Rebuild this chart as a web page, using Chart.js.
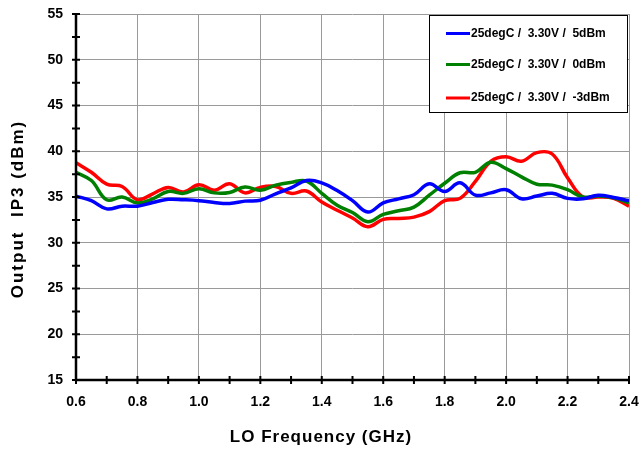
<!DOCTYPE html>
<html>
<head>
<meta charset="utf-8">
<script src="https://cdn.jsdelivr.net/npm/chart.js@4.4.1/dist/chart.umd.min.js"></script>
<style>
  html, body { margin: 0; padding: 0; background: #fff; }
  #wrap { width: 642px; height: 449px; }
</style>
</head>
<body>
<div id="wrap"><canvas id="chartIP3"></canvas></div>
<script>
// LO frequency (GHz), cada 0.05
const freq = [0.60, 0.65, 0.70, 0.75, 0.80, 0.85, 0.90, 0.95, 1.00, 1.05, 1.10, 1.15, 1.20,
  1.25, 1.30, 1.35, 1.40, 1.45, 1.50, 1.55, 1.60, 1.65, 1.70, 1.75, 1.80, 1.85, 1.90, 1.95,
  2.00, 2.05, 2.10, 2.15, 2.20, 2.25, 2.30, 2.35, 2.40];

const ip3_5dBm = [35.1, 34.6, 33.7, 34.0, 34.0, 34.4, 34.75, 34.7, 34.6, 34.4, 34.3, 34.55, 34.65,
  35.35, 36.0, 36.8, 36.55, 35.7, 34.6, 33.35, 34.35, 34.8, 35.25, 36.45, 35.6, 36.55, 35.2, 35.45,
  35.8, 34.8, 35.1, 35.4, 34.85, 34.8, 35.2, 34.95, 34.6];

const ip3_0dBm = [37.7, 36.8, 34.7, 35.0, 34.35, 34.8, 35.6, 35.4, 35.9, 35.45, 35.5, 36.1, 35.75,
  36.3, 36.6, 36.75, 35.4, 34.1, 33.3, 32.3, 33.1, 33.5, 33.9, 35.2, 36.5, 37.65, 37.7, 38.8,
  38.1, 37.2, 36.4, 36.3, 35.8, 35.0, 35.1, 34.9, 34.35];

const ip3_m3dBm = [38.75, 37.7, 36.4, 36.15, 34.7, 35.35, 36.05, 35.55, 36.35, 35.75, 36.45, 35.45, 36.05,
  36.15, 35.4, 35.65, 34.45, 33.55, 32.7, 31.75, 32.55, 32.65, 32.8, 33.4, 34.6, 34.85, 36.7, 38.9,
  39.4, 38.9, 39.85, 39.7, 37.1, 35.0, 35.0, 34.85, 34.0];

const xTicks = [0.6, 0.8, 1.0, 1.2, 1.4, 1.6, 1.8, 2.0, 2.2, 2.4];
const yTicks = [15, 20, 25, 30, 35, 40, 45, 50, 55];

const series = [
  { label: '25degC /  3.30V /  5dBm', values: ip3_5dBm, color: '#0000ff' },
  { label: '25degC /  3.30V /  0dBm', values: ip3_0dBm, color: '#008000' },
  { label: '25degC /  3.30V /  -3dBm', values: ip3_m3dBm, color: '#ff0000' }
];

const FONT = '"Liberation Sans", Arial, sans-serif';

// ejes negros con marcas que cruzan la línea, títulos de ejes y leyenda en recuadro
const ejesPlugin = {
  id: 'ejes',
  afterDatasetsDraw(chart) {
    const { ctx, chartArea: a, scales: { x, y } } = chart;
    ctx.save();
    ctx.strokeStyle = '#000';
    ctx.lineWidth = 2.5;
    ctx.beginPath();
    ctx.moveTo(a.left, a.top - 1);
    ctx.lineTo(a.left, a.bottom);
    ctx.lineTo(a.right + 1, a.bottom);
    ctx.stroke();
    ctx.lineWidth = 2;
    ctx.beginPath();
    for (let v = 15; v <= 55.01; v += 2.5) {
      const py = y.getPixelForValue(v);
      ctx.moveTo(a.left - 4, py);
      ctx.lineTo(a.left + 4, py);
    }
    for (let v = 0.6; v <= 2.401; v += 0.1) {
      const px = x.getPixelForValue(v);
      ctx.moveTo(px, a.bottom - 4);
      ctx.lineTo(px, a.bottom + 4);
    }
    ctx.stroke();
    ctx.restore();
  },
  afterDraw(chart) {
    const { ctx } = chart;
    ctx.save();
    ctx.fillStyle = '#000';
    ctx.textAlign = 'center';
    ctx.textBaseline = 'middle';
    ctx.font = 'bold 17px ' + FONT;
    ctx.letterSpacing = '1px';
    ctx.fillText('LO Frequency (GHz)', 321, 437);
    ctx.save();
    ctx.translate(18, 209);
    ctx.rotate(-Math.PI / 2);
    ctx.letterSpacing = '2px';
    ctx.fillText('Output  IP3 (dBm)', 0, 0);
    ctx.restore();
    ctx.letterSpacing = '0px';

    ctx.fillStyle = '#fff';
    ctx.fillRect(429.5, 15.5, 198, 97);
    ctx.strokeStyle = '#000';
    ctx.lineWidth = 1;
    ctx.strokeRect(429.5, 15.5, 198, 97);
    const filas = [33.5, 64.5, 98];
    ctx.font = 'bold 12px ' + FONT;
    ctx.textAlign = 'left';
    series.forEach((s, i) => {
      ctx.strokeStyle = s.color;
      ctx.lineWidth = 3;
      ctx.beginPath();
      ctx.moveTo(446, filas[i]);
      ctx.lineTo(470, filas[i]);
      ctx.stroke();
      ctx.fillStyle = '#000';
      ctx.fillText(s.label, 471, filas[i]);
    });
    ctx.restore();
  }
};

new Chart(document.getElementById('chartIP3'), {
  type: 'line',
  data: {
    datasets: series.map(s => ({
      label: s.label,
      data: freq.map((f, i) => ({ x: f, y: s.values[i] })),
      borderColor: s.color,
      backgroundColor: s.color,
      borderWidth: 3.5,
      pointRadius: 0,
      tension: 0.4,
      fill: false
    }))
  },
  options: {
    responsive: true,
    maintainAspectRatio: false,
    animation: false,
    layout: { padding: { top: 14, right: 13, left: 0, bottom: 0 } },
    plugins: { legend: { display: false }, tooltip: { enabled: false } },
    scales: {
      x: {
        type: 'linear',
        min: 0.6,
        max: 2.4,
        afterBuildTicks: sc => { sc.ticks = xTicks.map(v => ({ value: v })); },
        afterFit: sc => { sc.height = 69; sc.paddingLeft = 0; sc.paddingRight = 0; },
        grid: { color: '#9a9a9a', lineWidth: 1, drawTicks: false },
        border: { display: false },
        ticks: {
          color: '#000',
          padding: 14,
          maxRotation: 0,
          font: { family: FONT, size: 14, weight: 'bold' },
          callback: v => Number(v).toFixed(1)
        }
      },
      y: {
        min: 15,
        max: 55,
        afterBuildTicks: sc => { sc.ticks = yTicks.map(v => ({ value: v })); },
        afterFit: sc => { sc.width = 76; sc.paddingTop = 0; sc.paddingBottom = 0; },
        grid: { color: '#9a9a9a', lineWidth: 1, drawTicks: false },
        border: { display: false },
        ticks: {
          color: '#000',
          padding: 13,
          font: { family: FONT, size: 14, weight: 'bold' }
        }
      }
    }
  },
  plugins: [ejesPlugin]
});
</script>
</body>
</html>
